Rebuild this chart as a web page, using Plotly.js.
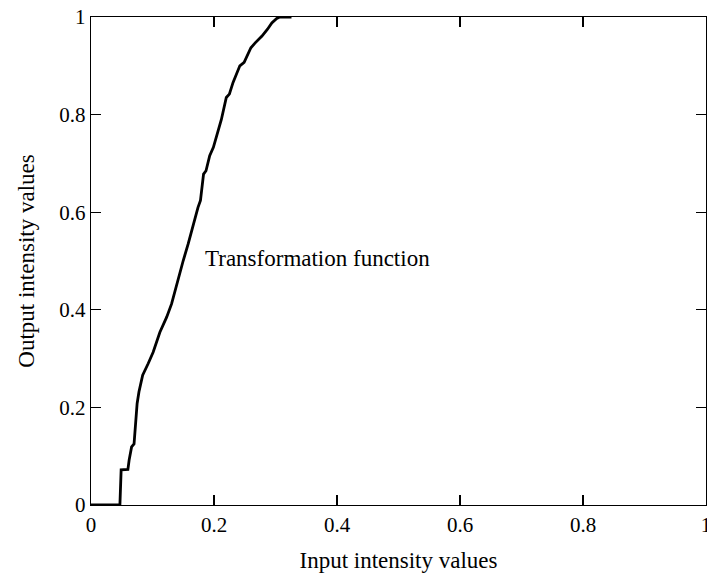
<!DOCTYPE html>
<html>
<head>
<meta charset="utf-8">
<script src="https://cdn.plot.ly/plotly-3.0.1.min.js"></script>
<style>html,body{margin:0;padding:0;background:#fff;}#chart{width:707px;height:575px;}</style>
</head>
<body>
<div id="chart"></div>
<script>
const inputVals = [0, 0.047, 0.049, 0.060, 0.062, 0.066, 0.070, 0.075, 0.078, 0.084, 0.093, 0.101, 0.112, 0.123, 0.131, 0.138, 0.145, 0.150, 0.158, 0.165, 0.169, 0.174, 0.178, 0.183, 0.187, 0.193, 0.199, 0.205, 0.212, 0.220, 0.225, 0.231, 0.236, 0.242, 0.249, 0.256, 0.260, 0.267, 0.278, 0.287, 0.294, 0.302, 0.307, 0.326];
const outputVals = [0, 0, 0.072, 0.073, 0.092, 0.119, 0.125, 0.208, 0.232, 0.266, 0.290, 0.313, 0.354, 0.385, 0.412, 0.446, 0.474, 0.501, 0.535, 0.569, 0.583, 0.610, 0.624, 0.678, 0.685, 0.716, 0.733, 0.760, 0.790, 0.835, 0.842, 0.866, 0.883, 0.900, 0.907, 0.927, 0.937, 0.947, 0.961, 0.975, 0.988, 0.997, 1, 1];
const tickValues = [0, 0.2, 0.4, 0.6, 0.8, 1];
const tickLabels = ['0', '0.2', '0.4', '0.6', '0.8', '1'];
const xTitle = 'Input intensity values';
const yTitle = 'Output intensity values';
const curveLabel = 'Transformation function';

const serif = 'Liberation Serif';
const axisCommon = {
  range: [0, 1],
  tickmode: 'array',
  tickvals: tickValues,
  ticktext: tickLabels,
  ticks: 'inside',
  ticklen: 10,
  tickwidth: 1.3,
  tickcolor: '#000',
  showline: true,
  linecolor: '#000',
  linewidth: 1.3,
  mirror: 'ticks',
  showgrid: false,
  zeroline: false,
  ticklabeloverflow: 'allow',
  tickfont: {family: serif, size: 21, color: '#000'}
};

const data = [{
  x: inputVals,
  y: outputVals,
  type: 'scatter',
  mode: 'lines',
  line: {color: '#000', width: 2.8},
  hoverinfo: 'skip'
}];

const layout = {
  width: 707,
  height: 575,
  margin: {l: 91, r: 1, t: 17, b: 70},
  paper_bgcolor: '#fff',
  plot_bgcolor: '#fff',
  font: {family: serif, color: '#000'},
  showlegend: false,
  xaxis: Object.assign({}, axisCommon, {
    title: {text: xTitle, font: {family: serif, size: 23, color: '#000'}, standoff: 16}
  }),
  yaxis: Object.assign({}, axisCommon, {
    title: {text: yTitle, font: {family: serif, size: 23, color: '#000'}, standoff: 18}
  }),
  annotations: [{
    x: 0.182, y: 0.506, xref: 'x', yref: 'y',
    text: curveLabel, showarrow: false,
    xanchor: 'left', yanchor: 'middle',
    font: {family: serif, size: 23, color: '#000'}
  }]
};

Plotly.newPlot('chart', data, layout, {displayModeBar: false, staticPlot: true});
</script>
</body>
</html>
